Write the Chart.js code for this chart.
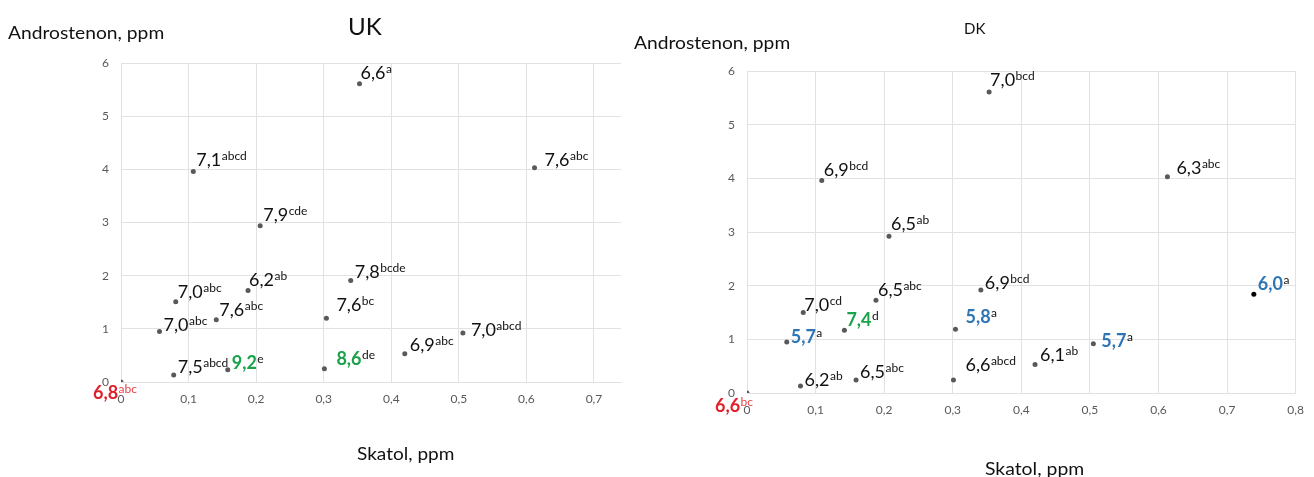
<!DOCTYPE html>
<html>
<head>
<meta charset="utf-8">
<script src="https://cdn.jsdelivr.net/npm/chart.js@4.4.1/dist/chart.umd.min.js"></script>
<style>
  html, body { margin: 0; padding: 0; background: #fff; }
  #wrap { position: relative; width: 1314px; height: 477px; overflow: hidden; background: #fff; font-family: Lato, "Open Sans", sans-serif; }
  canvas { position: absolute; top: 0; }
  .txt { position: absolute; white-space: nowrap; color: #111; line-height: 1; transform-origin: 0 0; }
</style>
</head>
<body>
<div id="wrap">
  <canvas id="ukChart" width="628" height="477" style="left:0;width:628px;height:477px"></canvas>
  <canvas id="dkChart" width="686" height="477" style="left:628px;width:686px;height:477px"></canvas>
  <div class="txt" style="left:8px;top:24px;font-size:17px;transform:scaleX(1.13)">Androstenon, ppm</div>
  <div class="txt" style="left:348px;top:15px;font-size:23px;transform:scaleX(1.05)">UK</div>
  <div class="txt" style="left:357px;top:445px;font-size:17px;transform:scaleX(1.12)">Skatol, ppm</div>
  <div class="txt" style="left:634px;top:34px;font-size:17px;transform:scaleX(1.13)">Androstenon, ppm</div>
  <div class="txt" style="left:964px;top:21px;font-size:15px">DK</div>
  <div class="txt" style="left:985px;top:460px;font-size:17px;transform:scaleX(1.14)">Skatol, ppm</div>
</div>
<script>
// ---------- DATA ----------
// UK
const skatolUK   = [0, 0.057, 0.078, 0.081, 0.107, 0.141, 0.158, 0.188, 0.206, 0.301, 0.304, 0.340, 0.353, 0.420, 0.506, 0.612];
const androUK    = [0, 0.95, 0.13, 1.51, 3.96, 1.17, 0.23, 1.72, 2.94, 0.25, 1.20, 1.91, 5.61, 0.53, 0.92, 4.03];
const valueUK    = ["6,8","7,0","7,5","7,0","7,1","7,6","9,2","6,2","7,9","8,6","7,6","7,8","6,6","6,9","7,0","7,6"];
const lettersUK  = ["abc","abc","abcd","abc","abcd","abc","e","ab","cde","de","bc","bcde","a","abc","abcd","abc"];
const groupUK    = ["low","n","n","n","n","n","high","n","n","high","n","n","n","n","n","n"];
// DK
const skatolDK   = [0, 0.058, 0.078, 0.082, 0.109, 0.142, 0.159, 0.188, 0.207, 0.301, 0.304, 0.341, 0.353, 0.420, 0.505, 0.613, 0.739];
const androDK    = [0, 0.95, 0.13, 1.50, 3.96, 1.17, 0.24, 1.73, 2.92, 0.24, 1.19, 1.92, 5.61, 0.53, 0.92, 4.03, 1.84];
const valueDK    = ["6,6","5,7","6,2","7,0","6,9","7,4","6,5","6,5","6,5","6,6","5,8","6,9","7,0","6,1","5,7","6,3","6,0"];
const lettersDK  = ["bc","a","ab","cd","bcd","d","abc","abc","ab","abcd","a","bcd","bcd","ab","a","abc","a"];
const groupDK    = ["low","best","n","n","n","high","n","n","n","n","best","n","n","n","best","n","best"];
// tick labels
const yTickLabels  = ["0","1","2","3","4","5","6"];
const xTickLabelsUK = ["0","0,1","0,2","0,3","0,4","0,5","0,6","0,7"];
const xTickLabelsDK = ["0","0,1","0,2","0,3","0,4","0,5","0,6","0,7","0,8"];

// ---------- STYLE ----------
const labelShiftUK = [[-28,17],[4,0],[4,-2],[2,-4],[3,-5],[3,-4],[4,-1],[1,-5],[3,-5],[12,-4],[10,-7],[4,-2],[1,-5],[5,-3],[8,3],[10,-2]];
const labelShiftDK = [[-32,19],[4,1],[4,0],[1,-2],[2,-4],[2,-4],[4,-2],[2,-4],[2,-6],[12,-9],[10,-6],[4,-1],[1,-6],[5,-4],[8,3],[9,-3],[4,-4]];
const dotColorDK = skatolDK.map((_, i) => i === 16 ? '#000000' : '#595959');
const groupColor = { n: '#111111', high: '#1aa34a', best: '#2e75b6', low: '#e0202a' };
const FONT = 'Lato, "Open Sans", sans-serif';
const GRID = '#e2e2e2';

function labelPlugin(vals, letters, groups, shifts) {
  return {
    id: 'ptLabels',
    afterDatasetsDraw(chart) {
      const ctx = chart.ctx;
      const meta = chart.getDatasetMeta(0);
      ctx.save();
      ctx.textBaseline = 'alphabetic';
      ctx.textAlign = 'left';
      meta.data.forEach((pt, i) => {
        const g = groups[i];
        const x0 = pt.x + shifts[i][0];
        const y0 = pt.y + shifts[i][1];
        ctx.font = (g === 'n' ? '' : 'bold ') + '18px ' + FONT;
        ctx.fillStyle = groupColor[g];
        ctx.fillText(vals[i], x0, y0);
        const w = ctx.measureText(vals[i]).width;
        ctx.font = '12px ' + FONT;
        ctx.fillStyle = g === 'low' ? '#e8454b' : '#111111';
        ctx.fillText(letters[i], x0 + w + 0.5, y0 - 6);
      });
      ctx.restore();
    }
  };
}

function makeChart(id, xs, ys, xMax, xLabels, dotColors, plugin, pad, yW, xH) {
  const pts = xs.map((v, i) => ({ x: v, y: ys[i] }));
  return new Chart(document.getElementById(id), {
    type: 'scatter',
    data: { datasets: [{ data: pts, pointRadius: 2.5, pointHoverRadius: 2.5, borderWidth: 0,
      pointBackgroundColor: dotColors, pointBorderColor: dotColors }] },
    options: {
      responsive: false, animation: false, devicePixelRatio: 1,
      layout: { padding: pad },
      plugins: { legend: { display: false }, tooltip: { enabled: false }, title: { display: false } },
      scales: {
        x: {
          type: 'linear', min: 0, max: xMax,
          grid: { color: GRID, drawTicks: false, lineWidth: 1 },
          border: { color: GRID },
          ticks: { stepSize: 0.1, includeBounds: false, padding: 10, color: '#595959',
            font: { family: FONT, size: 12 },
            callback: (v) => { const k = Math.round(v * 10); return Math.abs(v * 10 - k) < 1e-6 ? xLabels[k] : ''; } },
          afterFit: (s) => { s.height = xH; }
        },
        y: {
          type: 'linear', min: 0, max: 6,
          grid: { color: GRID, drawTicks: false, lineWidth: 1 },
          border: { color: GRID },
          ticks: { stepSize: 1, padding: 12, color: '#595959', font: { family: FONT, size: 12 },
            callback: (v) => yTickLabels[Math.round(v)] },
          afterFit: (s) => { s.width = yW; }
        }
      }
    },
    plugins: [plugin]
  });
}

makeChart('ukChart', skatolUK, androUK, 0.74, xTickLabelsUK, '#595959',
  labelPlugin(valueUK, lettersUK, groupUK, labelShiftUK),
  { left: 81, top: 63, right: 7, bottom: 55 }, 40, 40);
makeChart('dkChart', skatolDK, androDK, 0.8, xTickLabelsDK, dotColorDK,
  labelPlugin(valueDK, lettersDK, groupDK, labelShiftDK),
  { left: 79, top: 71, right: 14, bottom: 44 }, 40, 40);
</script>
</body>
</html>
